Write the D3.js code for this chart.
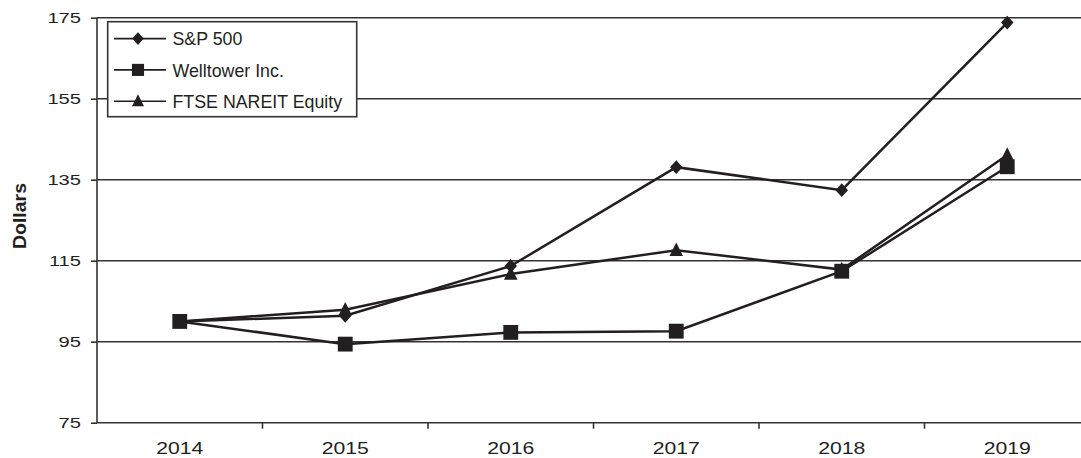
<!DOCTYPE html>
<html>
<head>
<meta charset="utf-8">
<script src="https://cdn.jsdelivr.net/npm/d3@7"></script>
<style>
  html, body { margin: 0; padding: 0; background: #fff; }
  svg { display: block; }
  text { font-family: "Liberation Sans", Arial, sans-serif; fill: #231f20; }
</style>
</head>
<body>
<svg id="chart" width="1081" height="458"></svg>
<script>
const years = ["2014", "2015", "2016", "2017", "2018", "2019"];
const sp500 = [100, 101.4, 113.7, 138.1, 132.4, 173.8];
const welltower = [100, 94.4, 97.3, 97.6, 112.4, 138.2];
const nareit = [100, 102.9, 111.7, 117.6, 112.8, 141.1];
const yTicks = [75, 95, 115, 135, 155, 175];
const seriesNames = ["S&P 500", "Welltower Inc.", "FTSE NAREIT Equity"];
const seriesShapes = ["diamond", "square", "triangle"];

(function () {
const W = 1081, H = 458;
const ink = "#231f20";
const svg = d3.select("#chart");

const plotLeft = 97, plotTop = 17.7, plotBottom = 422.7;
const band = 165.5;
const x = d3.scaleBand().domain(years).range([plotLeft, plotLeft + band * years.length]).padding(0);
const y = d3.scaleLinear().domain([75, 175]).range([plotBottom, plotTop]);

function shapePath(type, s) {
  const p = d3.path();
  if (type === "diamond") {
    const hw = s * 0.48, hh = s * 0.53;
    p.moveTo(0, -hh); p.lineTo(hw, 0); p.lineTo(0, hh); p.lineTo(-hw, 0); p.closePath();
  } else if (type === "square") {
    const h = s * 0.55;
    p.rect(-h, -h, 2 * h, 2 * h);
  } else {
    const hw = s * 0.5, hh = s * 0.5;
    p.moveTo(0, -hh - 1); p.lineTo(hw, hh - 1); p.lineTo(-hw, hh - 1); p.closePath();
  }
  return p.toString();
}

// gridlines
svg.append("g").selectAll("line").data(yTicks.filter(d => d > 75)).join("line")
  .attr("x1", plotLeft).attr("x2", W)
  .attr("y1", d => y(d)).attr("y2", d => y(d))
  .attr("stroke", "#333").attr("stroke-width", 1.6);

// y axis
const yAxis = svg.append("g").attr("transform", `translate(${plotLeft},0)`)
  .call(d3.axisLeft(y).tickValues(yTicks).tickSize(6).tickPadding(0).tickFormat(d3.format("d")));
yAxis.select(".domain").attr("stroke", "#333").attr("stroke-width", 1.6).attr("d", `M0,${plotTop}V${plotBottom}`);
yAxis.selectAll(".tick line").attr("stroke", "#333").attr("stroke-width", 1.6);
yAxis.selectAll(".tick text")
  .attr("x", null).attr("dy", null)
  .attr("text-anchor", "end")
  .attr("dominant-baseline", "central")
  .attr("transform", "translate(-16,0) scale(1.3,1)")
  .style("font-size", "15.5px").style("fill", ink).style("font-family", "Liberation Sans, Arial, sans-serif");

// x axis
const xAxisG = svg.append("g").attr("transform", `translate(0,${plotBottom})`);
xAxisG.append("line").attr("x1", plotLeft).attr("x2", W).attr("y1", 0).attr("y2", 0)
  .attr("stroke", "#333").attr("stroke-width", 1.6);
xAxisG.selectAll("line.tk").data(years.slice(1)).join("line").attr("class", "tk")
  .attr("x1", d => x(d)).attr("x2", d => x(d)).attr("y1", 0).attr("y2", 6)
  .attr("stroke", "#333").attr("stroke-width", 1.6);
xAxisG.selectAll("text").data(years).join("text")
  .attr("text-anchor", "middle")
  .attr("transform", d => `translate(${x(d) + x.bandwidth() / 2},${454.3 - plotBottom}) scale(1.3,1)`)
  .style("font-size", "16.3px")
  .text(d => d);

// Y label
svg.append("text")
  .attr("transform", "translate(25.5,216) rotate(-90)")
  .attr("text-anchor", "middle")
  .attr("textLength", 66).attr("lengthAdjust", "spacingAndGlyphs")
  .style("font-size", "18px").style("font-weight", "bold")
  .text("Dollars");

// series
const seriesData = [sp500, welltower, nareit];
const line = d3.line().x((d, i) => x(years[i]) + x.bandwidth() / 2).y(d => y(d));
const sizes = [13, 13.5, 13.5];
const order = [0, 2, 1];
order.forEach(k => {
  svg.append("path").datum(seriesData[k]).attr("d", line)
    .attr("fill", "none").attr("stroke", ink).attr("stroke-width", 2.5).attr("stroke-linejoin", "miter");
});
order.forEach(k => {
  svg.append("g").selectAll("path").data(seriesData[k]).join("path")
    .attr("transform", (d, i) => `translate(${x(years[i]) + x.bandwidth() / 2},${y(d)})`)
    .attr("d", shapePath(seriesShapes[k], sizes[k]))
    .attr("fill", ink);
});

// legend
const lg = svg.append("g");
lg.append("rect").attr("x", 107.7).attr("y", 21.7).attr("width", 249).attr("height", 95)
  .attr("fill", "#fff").attr("stroke", "#333").attr("stroke-width", 1.6);
const rowY = d3.scalePoint().domain(seriesNames).range([38.6, 101.2]);
const lrow = lg.selectAll("g.row").data(seriesNames).join("g").attr("class", "row")
  .attr("transform", d => `translate(0,${rowY(d)})`);
lrow.append("line").attr("x1", 114).attr("x2", 166).attr("y1", 0).attr("y2", 0)
  .attr("stroke", ink).attr("stroke-width", 1.6);
lrow.append("path").attr("transform", "translate(138,0)")
  .attr("d", (d, i) => shapePath(seriesShapes[i], [12, 11, 12][i])).attr("fill", ink);
lrow.append("text").attr("x", 172.5).attr("y", 6.6)
  .style("font-size", "17.8px").text(d => d);
})();
</script>
</body>
</html>
